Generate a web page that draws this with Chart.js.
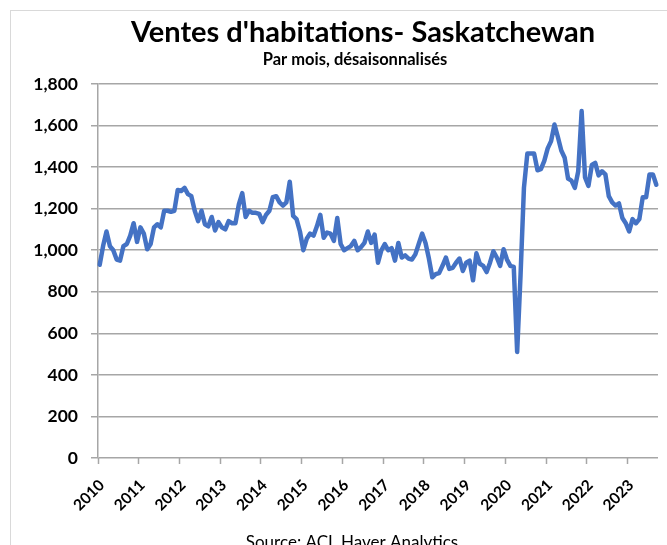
<!DOCTYPE html>
<html>
<head>
<meta charset="utf-8">
<title>Ventes d'habitations - Saskatchewan</title>
<script src="https://cdn.jsdelivr.net/npm/chart.js@4.4.0/dist/chart.umd.min.js"></script>
<style>
    html, body { margin: 0; padding: 0; background: #fff; overflow: hidden; }
    #wrap { position: relative; width: 667px; height: 545px; }
    #frame { position: absolute; left: 10px; top: 10px; width: 720px; height: 620px; border: 1px solid #d9d9d9; }
    canvas { position: absolute; left: 0; top: 0; }
</style>
</head>
<body>
<div id="wrap">
    <div id="frame"></div>
    <canvas id="chart" width="667" height="545"></canvas>
</div>
<script>
// Monthly home sales, seasonally adjusted, Jan 2010 - Sep 2023
const years = ['2010', '2011', '2012', '2013', '2014', '2015', '2016', '2017', '2018', '2019', '2020', '2021', '2022', '2023'];

const sales = [
    930, 1020, 1090, 1020, 1000, 955, 950, 1020, 1030, 1070, 1130, 1040,     // 2010
    1110, 1080, 1005, 1030, 1110, 1125, 1110, 1190, 1190, 1185, 1190, 1290,  // 2011
    1285, 1300, 1270, 1260, 1190, 1140, 1190, 1125, 1115, 1160, 1095, 1135,  // 2012
    1110, 1100, 1140, 1130, 1130, 1220, 1275, 1160, 1190, 1180, 1180, 1175,  // 2013
    1135, 1170, 1190, 1255, 1260, 1230, 1215, 1230, 1330, 1165, 1150, 1090,  // 2014
    1000, 1055, 1080, 1070, 1115, 1170, 1060, 1085, 1080, 1045, 1155, 1030,  // 2015
    1000, 1010, 1020, 1045, 1000, 1015, 1035, 1090, 1035, 1075, 940, 1000,   // 2016
    1030, 1000, 1010, 950, 1035, 965, 975, 960, 955, 980, 1030, 1080,        // 2017
    1035, 960, 870, 885, 890, 925, 965, 910, 915, 940, 960, 900,             // 2018
    940, 950, 855, 985, 935, 925, 895, 940, 995, 965, 925, 1005,             // 2019
    955, 925, 920, 510, 880, 1300, 1465, 1465, 1465, 1385, 1390, 1430,       // 2020
    1490, 1525, 1605, 1545, 1480, 1445, 1345, 1335, 1300, 1380, 1670, 1350,  // 2021
    1310, 1410, 1420, 1360, 1380, 1365, 1260, 1230, 1215, 1225, 1155, 1130,  // 2022
    1090, 1150, 1130, 1150, 1255, 1255, 1365, 1365, 1315                     // 2023
];

const yMin = 0;
const yMax = 1800;
const yStep = 200;

const titleText = "Ventes d'habitations- Saskatchewan";
const subtitleText = 'Par mois, désaisonnalisés';
const sourceText = 'Source: ACI, Haver Analytics';

// one category per month
const months = [];
for (let i = 0; i < sales.length; i++) {
    const y = years[Math.floor(i / 12)];
    const m = String(i % 12 + 1).padStart(2, '0');
    months.push(`${y}-${m}`);
}

const gridColor = '#a6a6a6';
const fontFamily = 'Lato, "Open Sans", sans-serif';

function isYearStart(index) {
    return index < months.length && months[index].endsWith('-01');
}

// titles and source line drawn on the canvas
const textPlugin = {
    id: 'texts',
    afterDraw(chart) {
        const ctx = chart.ctx;
        ctx.save();
        ctx.fillStyle = '#000';
        ctx.textAlign = 'center';
        ctx.textBaseline = 'alphabetic';
        ctx.font = `bold 29px ${fontFamily}`;
        ctx.fillText(titleText, 363, 42);
        ctx.font = `bold 16.5px ${fontFamily}`;
        ctx.fillText(subtitleText, 355, 65);
        ctx.font = `17px ${fontFamily}`;
        ctx.fillText(sourceText, 352, 548);
        ctx.restore();
    }
};

new Chart(document.getElementById('chart'), {
    type: 'line',
    data: {
        labels: months,
        datasets: [{
            label: 'Ventes',
            data: sales,
            borderColor: '#4472C4',
            borderWidth: 4.5,
            pointRadius: 0,
            tension: 0,
            borderJoinStyle: 'round',
            borderCapStyle: 'round'
        }]
    },
    options: {
        responsive: false,
        animation: false,
        layout: {
            padding: { top: 84, right: 9, bottom: 0, left: 0 }
        },
        plugins: {
            legend: { display: false },
            tooltip: { enabled: false }
        },
        scales: {
            x: {
                offset: true,
                border: { display: false },
                grid: {
                    offset: true,
                    drawOnChartArea: false,
                    drawTicks: true,
                    tickLength: 6,
                    tickColor: c => isYearStart(c.index) ? gridColor : 'rgba(0,0,0,0)',
                    tickWidth: c => isYearStart(c.index) ? 1.5 : 0
                },
                ticks: {
                    autoSkip: false,
                    minRotation: 45,
                    maxRotation: 45,
                    padding: 12,
                    labelOffset: 2,
                    color: '#000',
                    font: { family: fontFamily, weight: 'bold', size: 15.5 },
                    callback: (v, i) => isYearStart(i) ? months[i].slice(0, 4) : ''
                },
                afterFit: s => {
                    s.height = 87;
                    s.paddingLeft = 0;
                    s.paddingRight = 0;
                }
            },
            y: {
                min: yMin,
                max: yMax,
                border: { color: gridColor, width: 1.5 },
                grid: {
                    color: gridColor,
                    lineWidth: 1.5,
                    tickLength: 7
                },
                ticks: {
                    stepSize: yStep,
                    padding: 13,
                    color: '#000',
                    font: { family: fontFamily, weight: 'bold', size: 17.5 },
                    callback: v => v.toLocaleString('en-US')
                },
                afterFit: s => { s.width = 98; }
            }
        }
    },
    plugins: [textPlugin]
});
</script>
</body>
</html>
